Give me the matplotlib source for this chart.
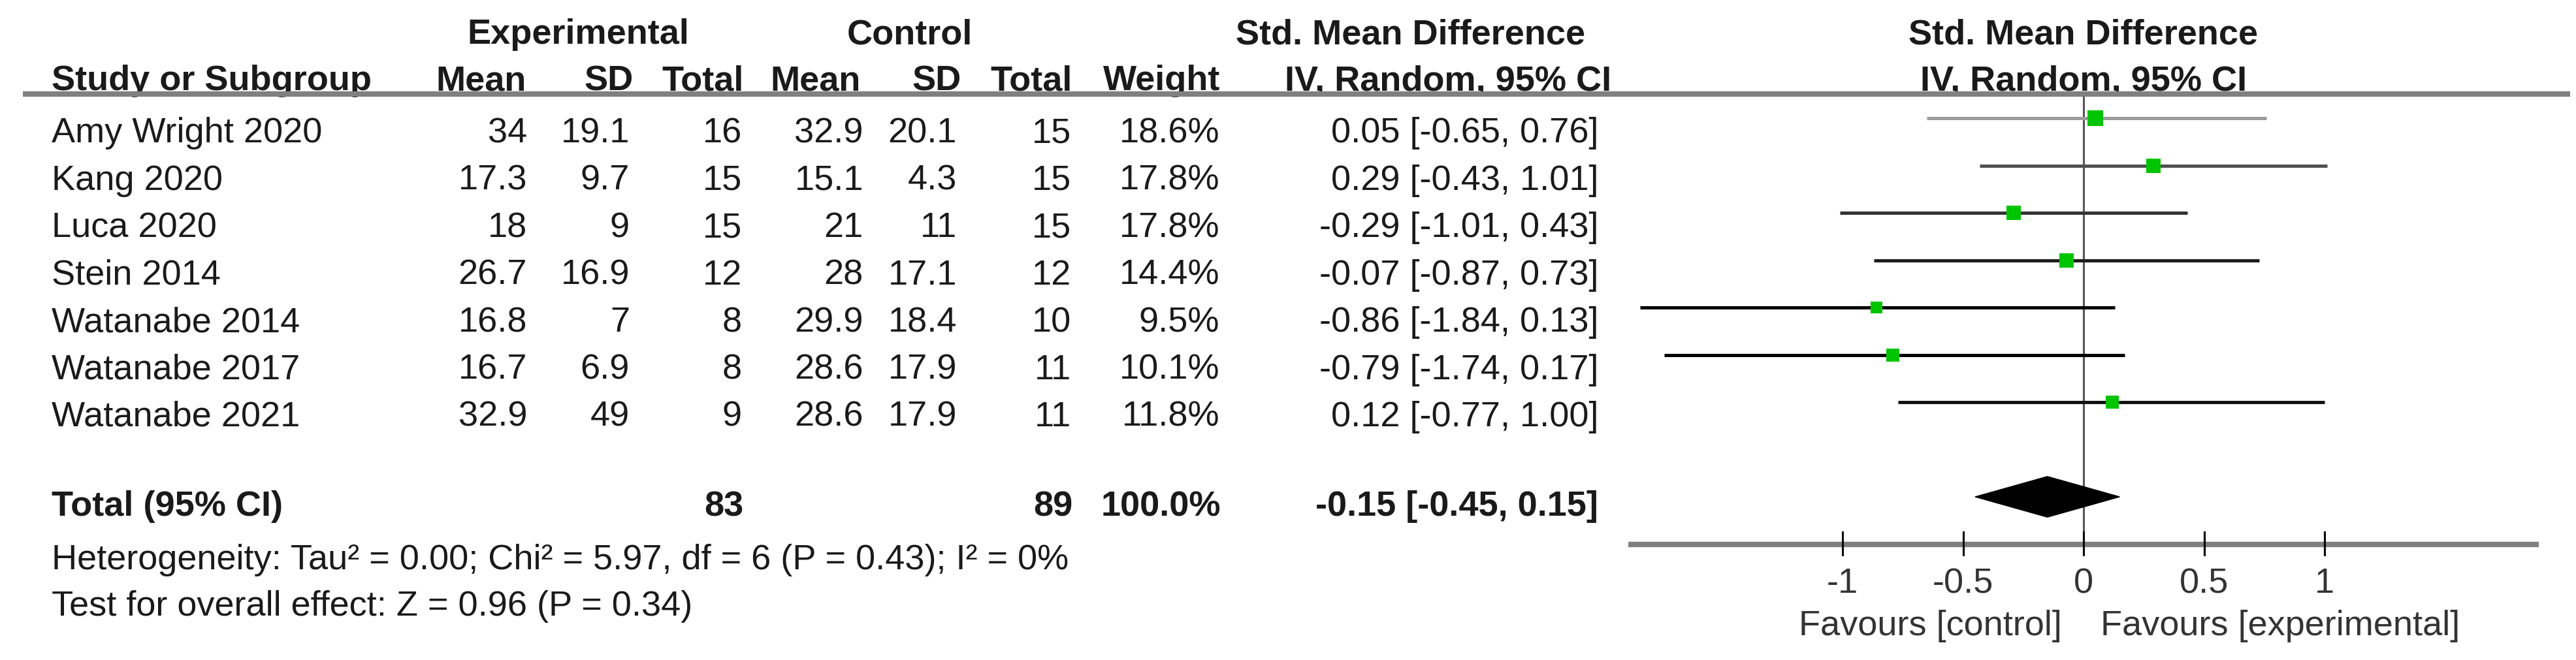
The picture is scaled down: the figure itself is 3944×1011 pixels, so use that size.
import matplotlib
matplotlib.use("Agg")
import matplotlib.pyplot as plt
import matplotlib.transforms as transforms
from matplotlib.patches import Polygon
from matplotlib.lines import Line2D

# donnees
etudes = ["Amy Wright 2020", "Kang 2020", "Luca 2020", "Stein 2014",
          "Watanabe 2014", "Watanabe 2017", "Watanabe 2021"]
exp_mean = [34, 17.3, 18, 26.7, 16.8, 16.7, 32.9]
exp_sd = [19.1, 9.7, 9, 16.9, 7, 6.9, 49]
exp_total = [16, 15, 15, 12, 8, 8, 9]
ctrl_mean = [32.9, 15.1, 21, 28, 29.9, 28.6, 28.6]
ctrl_sd = [20.1, 4.3, 11, 17.1, 18.4, 17.9, 17.9]
ctrl_total = [15, 15, 15, 12, 10, 11, 11]
poids = [18.6, 17.8, 17.8, 14.4, 9.5, 10.1, 11.8]
smd = [0.05, 0.29, -0.29, -0.07, -0.86, -0.79, 0.12]
ci_bas = [-0.65, -0.43, -1.01, -0.87, -1.84, -1.74, -0.77]
ci_haut = [0.76, 1.01, 0.43, 0.73, 0.13, 0.17, 1.00]
total_smd = -0.15
total_bas = -0.45
total_haut = 0.15
heterogeneite = "Heterogeneity: Tau² = 0.00; Chi² = 5.97, df = 6 (P = 0.43); I² = 0%"
effet_global = "Test for overall effect: Z = 0.96 (P = 0.34)"
ticks = [-1, -0.5, 0, 0.5, 1]
tick_labels = ["-1", "-0.5", "0", "0.5", "1"]

# style
couleurs_ci = ["#9a9a9a", "#505050", "#333333", "#1e1e1e", "#000000", "#000000", "#111111"]
vert = "#00c400"
gris = "#808080"
texte = "#1a1a1a"
fs = 39
police = "Liberation Sans"
limite_axe = 1.89

W, H = 3944, 1011
fig = plt.figure(figsize=(W / 100, H / 100), dpi=100)
ax = fig.add_axes([0, 0, 1, 1])
ax.set_xlim(-3190 / 369, (W - 3190) / 369)
ax.set_ylim(11.448, -2.497)
ax.axis("off")
tr = transforms.blended_transform_factory(ax.transAxes, ax.transData)


def txt(x, y, s, ha="right", bold=False, color=texte):
    ax.text(x / W, y, s, transform=tr, ha=ha, va="baseline", fontsize=fs,
            family=police, fontweight="bold" if bold else "normal", color=color)


def fmt(v):
    return f"{v:g}"


# en-tetes
txt(885, -1.57, "Experimental", ha="center", bold=True)
txt(1393, -1.57, "Control", ha="center", bold=True)
txt(2160, -1.57, "Std. Mean Difference", ha="center", bold=True)
txt(79, -0.59, "Study or Subgroup", ha="left", bold=True)
cols_tete = [806, 970, 1139, 1318, 1472, 1642, 1868]
noms = ["Mean", "SD", "Total", "Mean", "SD", "Total", "Weight"]
for c, n in zip(cols_tete, noms):
    txt(c, -0.59, n, bold=True)
txt(2217, -0.59, "IV, Random, 95% CI", ha="center", bold=True)
ax.text(0, -1.57, "Std. Mean Difference", transform=ax.transData, ha="center", va="baseline",
        fontsize=fs, family=police, fontweight="bold", color=texte)
ax.text(0, -0.59, "IV, Random, 95% CI", transform=ax.transData, ha="center", va="baseline",
        fontsize=fs, family=police, fontweight="bold", color=texte)

fig.add_artist(Line2D([35 / W, 3935 / W], [1 - 144 / H, 1 - 144 / H], color=gris, lw=6,
                      transform=fig.transFigure, solid_capstyle="butt"))

# lignes des etudes
cols = [807, 964, 1136, 1322, 1465, 1640, 1867]
x_ci = 2447
for i in range(len(etudes)):
    txt(79, i + 0.51, etudes[i], ha="left")
    valeurs = [fmt(exp_mean[i]), fmt(exp_sd[i]), str(exp_total[i]), fmt(ctrl_mean[i]),
               fmt(ctrl_sd[i]), str(ctrl_total[i]), f"{poids[i]:.1f}%"]
    for c, v in zip(cols, valeurs):
        txt(c, i + 0.51, v)
    txt(x_ci, i + 0.51, f"{smd[i]:.2f} [{ci_bas[i]:.2f}, {ci_haut[i]:.2f}]")
    ax.plot([ci_bas[i], ci_haut[i]], [i, i], color=couleurs_ci[i], lw=3.6,
            solid_capstyle="butt", zorder=3)
    cote = (14 + 0.5 * poids[i]) * 0.72
    ax.plot(smd[i], i, marker="s", ms=cote, color=vert, mec=vert, mew=0, zorder=4)

# total
y_tot = len(etudes) + 1
txt(79, 8.40, "Total (95% CI)", ha="left", bold=True)
txt(cols[2] + 2, 8.40, str(sum(exp_total)), bold=True)
txt(cols[5] + 2, 8.40, str(sum(ctrl_total)), bold=True)
txt(cols[6] + 2, 8.40, f"{sum(poids):.1f}%", bold=True)
txt(x_ci, 8.40, f"{total_smd:.2f} [{total_bas:.2f}, {total_haut:.2f}]", bold=True)
h = 0.43
ax.add_patch(Polygon([[total_bas, y_tot], [total_smd, y_tot - h], [total_haut, y_tot],
                      [total_smd, y_tot + h]], closed=True, color="black", zorder=4))

txt(79, 9.53, heterogeneite, ha="left")
txt(79, 10.51, effet_global, ha="left")

# axe du graphique
ax.plot([0, 0], [-0.51, 9], color="#555555", lw=2.2, zorder=2)
ax.plot([-limite_axe, limite_axe], [9, 9], color=gris, lw=6, solid_capstyle="butt", zorder=2)
for t, lab in zip(ticks, tick_labels):
    ax.plot([t, t], [8.74, 9.23], color="black", lw=2.2, zorder=3)
    ax.text(t, 10.03, lab, ha="center", va="baseline", fontsize=fs, family=police, color="#333333")
ax.text(-0.09, 10.92, "Favours [control]", ha="right", va="baseline", fontsize=fs,
        family=police, color="#333333")
ax.text(0.07, 10.92, "Favours [experimental]", ha="left", va="baseline", fontsize=fs,
        family=police, color="#333333")

fig.savefig("out.png", dpi=100, facecolor="white")
